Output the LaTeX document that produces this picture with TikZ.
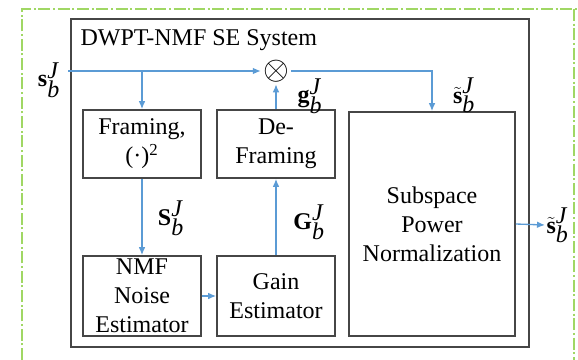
\documentclass[tikz,border=0pt]{standalone}
\usepackage{fontspec}
\setmainfont{Liberation Serif}
\usetikzlibrary{arrows.meta}
\definecolor{arrblue}{RGB}{91,155,213}
\definecolor{boxgray}{RGB}{70,70,70}
\definecolor{dashgreen}{RGB}{160,215,100}
\newcommand{\sigb}[1]{\ensuremath{#1_{\textit{b}}^{\textit{J}}}}
\tikzset{
  blk/.style={draw=boxgray, line width=1.3pt, align=center, inner sep=0pt,
    font=\fontsize{18}{21.75}\selectfont},
  arr/.style={draw=arrblue, line width=1pt, -{Latex[length=6pt,width=5pt]}},
  lbl/.style={inner sep=1pt, font=\fontsize{18}{21.75}\selectfont},
}
\begin{document}
\begin{tikzpicture}[x=0.75pt, y=-0.75pt]
  \useasboundingbox (0,0) rectangle (578,360);
  % dash-dot frame
  \draw[dashgreen, line width=1pt, dash pattern=on 9pt off 2pt on 1.5pt off 2pt]
    (22,360) -- (22,9) -- (578,9);
  \draw[dashgreen, line width=1pt, dash pattern=on 9pt off 2pt on 1.5pt off 2pt]
    (574,9) -- (574,360);
  % system box
  \node[blk, minimum width=343.5pt, minimum height=246pt] (sys) at (300,183) {};
  \node[lbl, anchor=base west] (title) at (79,46) {DWPT-NMF SE System};
  % blocks
  \node[blk, minimum width=88.5pt, minimum height=51pt] (frame) at (142,144)
    {Framing,\\(·)\textsuperscript{2}};
  \node[blk, minimum width=88.5pt, minimum height=51pt] (deframe) at (276,144)
    {De-\\Framing};
  \node[blk, minimum width=88.5pt, minimum height=60pt] (nmf) at (142,296)
    {NMF\\Noise\\Estimator};
  \node[blk, minimum width=88.5pt, minimum height=60pt] (gain) at (276,296)
    {Gain\\Estimator};
  \node[blk, minimum width=124.5pt, minimum height=168pt] (spn) at (432,224)
    {Subspace\\Power\\Normalization};
  \node[inner sep=1.5pt, font=\fontsize{24}{28}\selectfont] (mult) at (276,71) {$\otimes$};
  % signal labels
  \node[lbl] (sin) at (49,80) {\sigb{\textbf{s}}};
  \node[lbl] (gsmall) at (310,96) {\sigb{\textbf{g}}};
  \node[lbl] (shat) at (464,95) {\sigb{\tilde{\textbf{s}}}};
  \node[lbl] (sbig) at (171,218) {\sigb{\textbf{S}}};
  \node[lbl] (gbig) at (309,222) {\sigb{\textbf{G}}};
  \node[lbl, anchor=west] (sout) at (545,225) {\sigb{\tilde{\textbf{s}}}};
  \coordinate (in) at (68,71);
  % connectors
  \draw[arr] (in) -- (mult);
  \draw[arr] (frame.north |- in) -- (frame.north);
  \draw[arr] (mult) -| (spn.north);
  \draw[arr] (deframe.north) -- (mult);
  \draw[arr] (frame) -- (nmf);
  \draw[arr] (nmf) -- (gain);
  \draw[arr] (gain) -- (deframe);
  \draw[arr] (spn.east) -- (sout.west);
\end{tikzpicture}
\end{document}
